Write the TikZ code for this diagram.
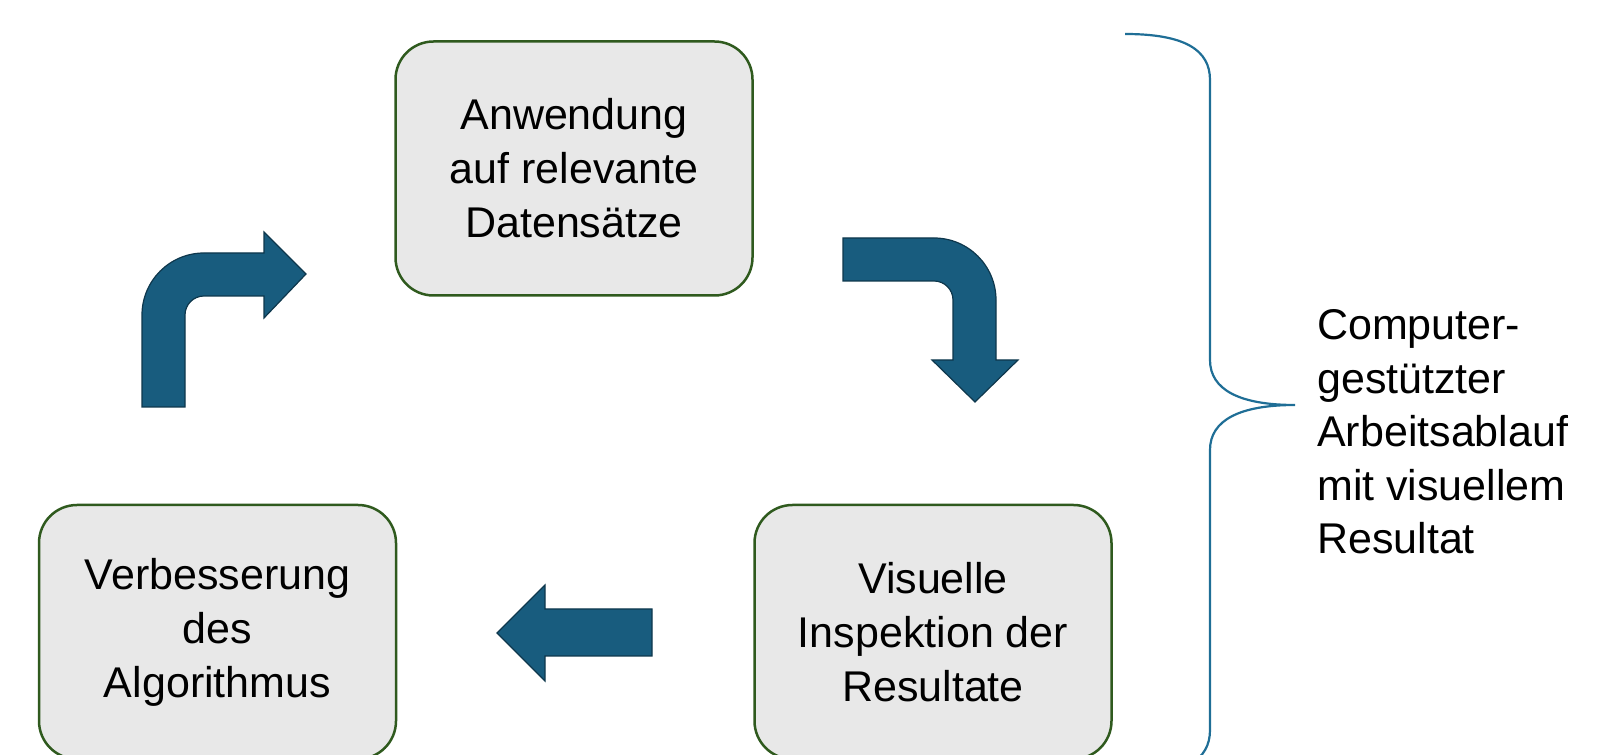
\documentclass[tikz,border=0pt]{standalone}
\usepackage{fontspec}
\setmainfont{Liberation Sans}
\usetikzlibrary{positioning}

\definecolor{boxfill}{HTML}{E8E8E8}
\definecolor{boxline}{HTML}{2F5A1E}
\definecolor{arrowblue}{HTML}{185C7E}
\definecolor{braceblue}{HTML}{1F6E96}

\tikzset{
  stepbox/.style={draw=boxline,fill=boxfill,line width=2.5pt,rounded corners=38pt,
    minimum width=357pt,minimum height=254pt,align=center,inner sep=0pt,
    font=\fontsize{43}{54}\selectfont},
  blockarrow/.style={fill=arrowblue,draw=arrowblue!60!black,line width=1.2pt}
}

\begin{document}
\begin{tikzpicture}[x=1pt,y=1pt]
  \useasboundingbox (0,0) rectangle (1610,755);

  \node[stepbox] (apply) at (574,586.5) {Anwendung\\auf relevante\\Datensätze};
  \node[stepbox] (inspect) at (933,123) {Visuelle\\Inspektion der\\Resultate};
  \node[stepbox] (improve) at (217.5,123) {Verbesserung\\des\\Algorithmus};

  % block arrows between the steps
  \draw[blockarrow] (843,517) -- (934,517) arc[start angle=90,end angle=0,radius=62]
    -- (996,395) -- (1018,395) -- (975,353) -- (932,395) -- (953,395) -- (953,455)
    arc[start angle=0,end angle=90,radius=19] -- (843,474) -- cycle;
  \draw[blockarrow] (652,146) -- (545,146) -- (545,170) -- (497,122) -- (545,74)
    -- (545,99) -- (652,99) -- cycle;
  \draw[blockarrow] (142,348) -- (142,440) arc[start angle=180,end angle=90,radius=62]
    -- (264,502) -- (264,523) -- (306,481) -- (264,437) -- (264,459) -- (204,459)
    arc[start angle=90,end angle=180,radius=19] -- (185,348) -- cycle;

  % brace
  \coordinate (tip) at (1295,350);
  \draw[braceblue,line width=2.2pt] (1125,721) .. controls (1185,721) and (1210,705) .. (1210,675)
    -- (1210,395) .. controls (1210,365) and (1240,350) .. (tip)
    .. controls (1240,350) and (1210,335) .. (1210,305)
    -- (1210,25) .. controls (1210,-5) and (1185,-21) .. (1125,-21);
  \node[anchor=west,align=left,inner sep=0pt,font=\fontsize{43}{53.5}\selectfont] (label) at (1317,323)
    {Computer-\\gestützter\\Arbeitsablauf\\mit visuellem\\Resultat};
\end{tikzpicture}
\end{document}
